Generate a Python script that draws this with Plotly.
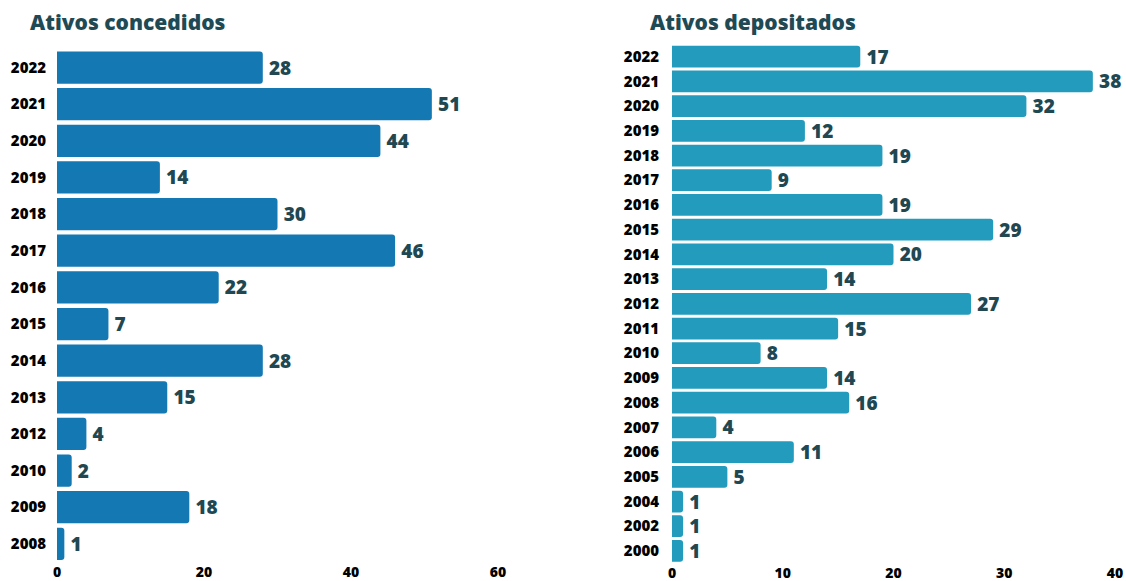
import plotly.graph_objects as go

# Left chart: Ativos concedidos
years_conc = ["2022", "2021", "2020", "2019", "2018", "2017", "2016", "2015",
              "2014", "2013", "2012", "2010", "2009", "2008"]
values_conc = [28, 51, 44, 14, 30, 46, 22, 7, 28, 15, 4, 2, 18, 1]

# Right chart: Ativos depositados
years_dep = ["2022", "2021", "2020", "2019", "2018", "2017", "2016", "2015",
             "2014", "2013", "2012", "2011", "2010", "2009", "2008", "2007",
             "2006", "2005", "2004", "2002", "2000"]
values_dep = [17, 38, 32, 12, 19, 9, 19, 29, 20, 14, 27, 15, 8, 14, 16, 4,
              11, 5, 1, 1, 1]

ticks_conc = [0, 20, 40, 60]
ticks_dep = [0, 10, 20, 30, 40]

title_left = "Ativos concedidos"
title_right = "Ativos depositados"

W, H = 1126, 581
BAR_LEFT = "#1479b3"
BAR_RIGHT = "#239bbc"
TXT = "#1f4852"
FONT = "Open Sans"

label_font = dict(family=FONT, size=19, color=TXT, weight=800)

fig = go.Figure()
fig.add_trace(go.Bar(
    x=values_conc, y=years_conc, orientation="h",
    marker=dict(color=BAR_LEFT, cornerradius=3, line=dict(width=0)),
    text=["\u2009" + str(v) for v in values_conc], textposition="outside",
    constraintext="none", textfont=label_font, cliponaxis=False,
    xaxis="x", yaxis="y", hoverinfo="x+y",
))
fig.add_trace(go.Bar(
    x=values_dep, y=years_dep, orientation="h",
    marker=dict(color=BAR_RIGHT, cornerradius=3, line=dict(width=0)),
    text=["\u2009" + str(v) for v in values_dep], textposition="outside",
    constraintext="none", textfont=label_font, cliponaxis=False,
    xaxis="x2", yaxis="y2", hoverinfo="x+y",
))

tickfont = dict(family=FONT, size=15, color="#000000", weight=800)
xtickfont = dict(family=FONT, size=14, color="#000000", weight=800)

fig.update_layout(
    width=W, height=H,
    margin=dict(l=0, r=0, t=0, b=0, autoexpand=False),
    paper_bgcolor="white", plot_bgcolor="white",
    showlegend=False,
    bargap=0.12,
    uniformtext=dict(mode=False),
    xaxis=dict(domain=[57 / W, 498 / W], range=[0, 60], tickvals=ticks_conc,
               showgrid=False, zeroline=False, showline=False, ticks="",
               tickfont=xtickfont, anchor="y", fixedrange=True, automargin=False),
    yaxis=dict(domain=[(H - 562.2) / H, (H - 49.2) / H], categoryorder="array",
               categoryarray=years_conc[::-1], range=[-0.5, len(years_conc) - 0.5],
               showgrid=False, zeroline=False,
               ticks="", ticklabelstandoff=10, tickfont=tickfont, anchor="x",
               fixedrange=True, automargin=False),
    xaxis2=dict(domain=[672 / W, 1115 / W], range=[0, 40], tickvals=ticks_dep,
                showgrid=False, zeroline=False, showline=False, ticks="",
                tickfont=xtickfont, anchor="y2", fixedrange=True, automargin=False),
    yaxis2=dict(domain=[(H - 563.3) / H, (H - 44.3) / H], categoryorder="array",
                categoryarray=years_dep[::-1], range=[-0.5, len(years_dep) - 0.5],
                showgrid=False, zeroline=False,
                ticks="", ticklabelstandoff=12, tickfont=tickfont, anchor="x2",
                fixedrange=True, automargin=False),
    annotations=[
        dict(text=title_left, x=28 / W, y=(H - 22) / H, xref="paper", yref="paper",
             xanchor="left", yanchor="middle", showarrow=False,
             font=dict(family=FONT, size=21, color="#1e4a56", weight=800)),
        dict(text=title_right, x=648 / W, y=(H - 22) / H, xref="paper", yref="paper",
             xanchor="left", yanchor="middle", showarrow=False,
             font=dict(family=FONT, size=21, color="#1e4a56", weight=800)),
    ],
)

fig.write_html("out.html")
